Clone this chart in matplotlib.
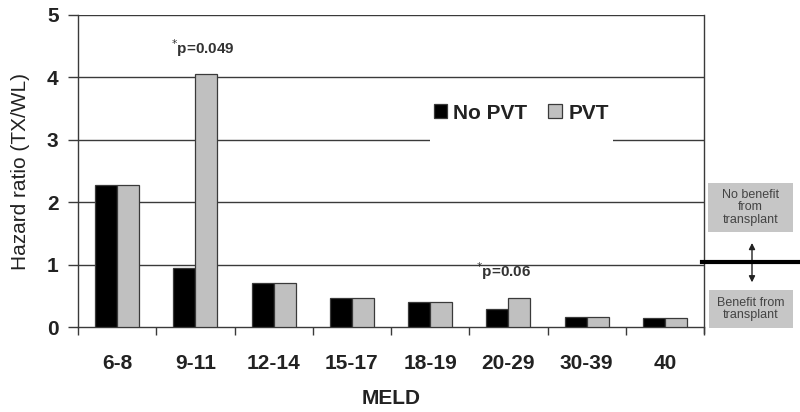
import matplotlib
matplotlib.use("Agg")
import matplotlib.pyplot as plt
import numpy as np
from matplotlib.patches import Rectangle, FancyArrowPatch

# Data
meld = ["6-8", "9-11", "12-14", "15-17", "18-19", "20-29", "30-39", "40"]
no_pvt = [2.28, 0.94, 0.70, 0.46, 0.41, 0.29, 0.17, 0.14]
pvt = [2.28, 4.05, 0.70, 0.46, 0.41, 0.46, 0.17, 0.14]
y_ticks = [0, 1, 2, 3, 4, 5]

plt.rcParams['font.family'] = ['Liberation Sans', 'DejaVu Sans']

fig = plt.figure(figsize=(8, 4.12), dpi=100)
ax = fig.add_axes([0.0975, 0.206, 0.7825, 0.7576])

x = np.arange(len(meld))
w = 0.28
line_col = "#3a3a3a"
txt_col = "#222222"

ax.bar(x - w/2, no_pvt, w, color="black", edgecolor=line_col, linewidth=0.9, label="No PVT", zorder=3)
ax.bar(x + w/2, pvt, w, color="#c0c0c0", edgecolor=line_col, linewidth=0.9, label="PVT", zorder=3)

# horizontal grid lines
for yv in y_ticks[1:]:
    ax.axhline(yv, color=line_col, linewidth=1.0, zorder=1)

# white gap in grid behind legend
ax.add_patch(Rectangle((0.563, 0.57), 0.292, 0.17, transform=ax.transAxes,
                       facecolor="white", edgecolor="none", zorder=2))

ax.set_xlim(-0.5, 7.5)
ax.set_ylim(0, 5)
ax.set_yticks(y_ticks)
ax.set_yticklabels([str(v) for v in y_ticks], fontsize=15, fontweight='bold', color=txt_col)
ax.set_xticks(np.arange(-0.5, 8.0, 1.0))
ax.set_xticklabels([])
ax.set_xticks(x, minor=True)
ax.set_xticklabels(meld, minor=True, fontsize=15, fontweight='bold', color=txt_col)
ax.tick_params(axis='x', which='major', length=6, width=1, color=line_col, direction='out')
ax.tick_params(axis='x', which='minor', length=0, pad=19)
ax.tick_params(axis='y', length=7, width=1, color=line_col, direction='out', pad=7)

ax.spines['top'].set_visible(False)
for side in ['left', 'right', 'bottom']:
    ax.spines[side].set_color(line_col)
    ax.spines[side].set_linewidth(1.0)
ax.spines['right'].set_bounds(-0.1, 5)

ax.set_xlabel("MELD", fontsize=15, fontweight='bold', labelpad=12, color=txt_col)
ax.set_ylabel("Hazard ratio (TX/WL)", fontsize=15, labelpad=12, color=txt_col)

leg = ax.legend(loc='center', bbox_to_anchor=(0.708, 0.686), ncol=2, frameon=False,
                handlelength=0.65, handleheight=0.65, handletextpad=0.3,
                columnspacing=1.0, prop={'weight': 'bold', 'size': 15})
for t in leg.get_texts():
    t.set_color(txt_col)

# p-value annotations
ax.text(1.09, 4.47, r"$^{*}$p=0.049", ha='center', va='center', fontsize=11,
        fontweight='bold', color="#333333")
ax.text(4.94, 0.9, r"$^{*}$p=0.06", ha='center', va='center', fontsize=11,
        fontweight='bold', color="#333333")

# right side explanation
box_col = "#c6c6c6"
fig.add_artist(Rectangle((0.885, 0.437), 0.106, 0.119, transform=fig.transFigure,
                         facecolor=box_col, edgecolor="none"))
fig.text(0.938, 0.4965, "No benefit\nfrom\ntransplant", ha='center', va='center',
         fontsize=9, color="#444444", linespacing=1.05)
fig.add_artist(Rectangle((0.886, 0.204), 0.105, 0.092, transform=fig.transFigure,
                         facecolor=box_col, edgecolor="none"))
fig.text(0.938, 0.25, "Benefit from\ntransplant", ha='center', va='center',
         fontsize=9, color="#444444", linespacing=1.05)
fig.add_artist(plt.Line2D([0.8775, 1.0], [0.364, 0.364], transform=fig.transFigure,
                          color="black", linewidth=3))
fig.add_artist(FancyArrowPatch((0.94, 0.308), (0.94, 0.417), transform=fig.transFigure,
                               arrowstyle='<|-|>', mutation_scale=9, color="#222222",
                               linewidth=1.0))

fig.savefig("out.png", dpi=100)
